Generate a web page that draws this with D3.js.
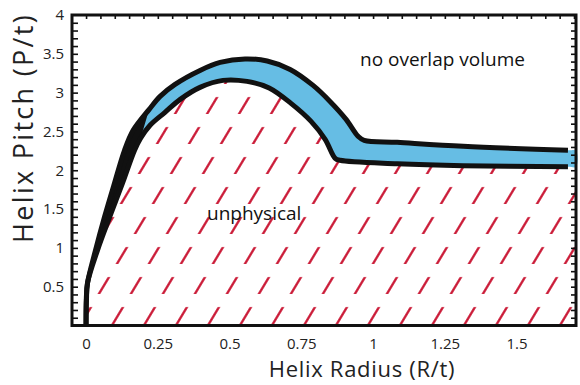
<!DOCTYPE html>
<html>
<head>
<meta charset="utf-8">
<script src="https://cdn.jsdelivr.net/npm/d3@7"></script>
<style>
  body { margin: 0; background: #fff; }
  svg { display: block; font-family: "Open Sans", Lato, sans-serif; }
</style>
</head>
<body>
<div class="canvas"><svg width="580" height="385"></svg></div>
<script>
// upper boundary of the no-overlap band  [R/t, P/t]
var upperCurve = [
  [0, 0], [0.0007, 0.328], [0.005, 0.547], [0.033, 0.971], [0.064, 1.395],
  [0.099, 1.833], [0.134, 2.257], [0.164, 2.514], [0.220, 2.785], [0.258, 2.952],
  [0.310, 3.106], [0.397, 3.286], [0.467, 3.389], [0.554, 3.434], [0.631, 3.408],
  [0.711, 3.299], [0.791, 3.093], [0.850, 2.887], [0.906, 2.656], [0.948, 2.437],
  [0.969, 2.386], [1.084, 2.360], [1.314, 2.309], [1.679, 2.257], [1.707, 2.251]
];

// lower boundary (edge of the unphysical region)
var lowerCurve = [
  [0, 0], [0.0014, 0.328], [0.005, 0.547], [0.040, 0.971], [0.082, 1.395],
  [0.127, 1.833], [0.169, 2.257], [0.190, 2.412], [0.223, 2.579], [0.275, 2.746],
  [0.328, 2.913], [0.397, 3.068], [0.477, 3.158], [0.561, 3.145], [0.638, 3.061],
  [0.714, 2.862], [0.784, 2.630], [0.833, 2.399], [0.868, 2.154], [0.885, 2.129],
  [1.084, 2.084], [1.314, 2.058], [1.679, 2.045], [1.707, 2.045]
];

var xTickValues = [0, 0.25, 0.5, 0.75, 1, 1.25, 1.5];
var xTickLabels = ["0", "0.25", "0.5", "0.75", "1", "1.25", "1.5"];
var yTickValues = [0.5, 1, 1.5, 2, 2.5, 3, 3.5, 4];
var yTickLabels = ["0.5", "1", "1.5", "2", "2.5", "3", "3.5", "4"];

var svg = d3.select(".canvas").select("svg");

// plot frame (window.top is taken, so own names)
var frameLeft = 72, frameRight = 576, frameTop = 15, frameBottom = 325.5;

var x = d3.scaleLinear().domain([-0.049, 1.707]).range([frameLeft, frameRight]);
var y = d3.scaleLinear().domain([0, 4]).range([frameBottom, frameTop]);

var curve = d3.curveCatmullRom.alpha(0.5);
var line = d3.line().x(function(d) { return x(d[0]); }).y(function(d) { return y(d[1]); }).curve(curve);

// dashed diagonal hatching
var hatch = svg.append("defs").append("pattern")
  .attr("id", "hatch")
  .attr("patternUnits", "userSpaceOnUse")
  .attr("width", 32)
  .attr("height", 30)
  .attr("patternTransform", "skewX(-31)");
hatch.append("rect")
  .attr("x", 18.2).attr("y", 7)
  .attr("width", 2.6).attr("height", 17)
  .attr("fill", "#c8102e");

// unphysical region under the lower curve
var under = d3.area()
  .x(function(d) { return x(d[0]); })
  .y0(y(0))
  .y1(function(d) { return y(d[1]); })
  .curve(curve);
svg.append("path")
  .datum(lowerCurve)
  .attr("d", under)
  .attr("fill", "url(#hatch)");

// blue band between the two curves
var band = upperCurve.concat(lowerCurve.slice().reverse());
svg.append("path")
  .datum(band)
  .attr("d", line)
  .attr("fill", "#66bde4");

// near the origin the band is all black; slanted end so the blue starts as a sliver
var tail = upperCurve.slice(0, 9).concat(lowerCurve.slice(0, 8).reverse());
svg.append("path")
  .datum(tail)
  .attr("d", d3.line().x(function(d) { return x(d[0]); }).y(function(d) { return y(d[1]); }))
  .attr("fill", "#111");

// black edges
[upperCurve, lowerCurve].forEach(function(c) {
  svg.append("path")
    .datum(c.filter(function(d) { return d[0] <= 1.68; }))
    .attr("d", line)
    .attr("fill", "none")
    .attr("stroke", "#111")
    .attr("stroke-width", 5)
    .attr("stroke-linejoin", "round");
});

// minor ticks on left, right and top
var yMinor = d3.range(1, 40).map(function(i) { return i / 10; });
var xMinor = d3.range(0, 35).map(function(i) { return i * 0.05; });

svg.append("g")
  .attr("transform", "translate(" + frameLeft + ",0)")
  .call(d3.axisRight(y).tickValues(yMinor).tickSize(6).tickFormat(""))
  .call(function(g) { g.select(".domain").remove(); });

svg.append("g")
  .attr("transform", "translate(" + frameRight + ",0)")
  .call(d3.axisLeft(y).tickValues(yMinor).tickSize(5).tickFormat(""))
  .call(function(g) { g.select(".domain").remove(); });

svg.append("g")
  .attr("transform", "translate(0," + frameTop + ")")
  .call(d3.axisBottom(x).tickValues(xMinor).tickSize(4).tickFormat(""))
  .call(function(g) { g.select(".domain").remove(); });

svg.selectAll(".tick line").attr("stroke", "#111").attr("stroke-width", 1.6);

// tick labels
svg.append("g")
  .attr("transform", "translate(" + frameLeft + ",0)")
  .call(d3.axisLeft(y).tickValues(yTickValues).tickSize(0).tickPadding(8)
    .tickFormat(function(d, i) { return yTickLabels[i]; }))
  .call(function(g) { g.select(".domain").remove(); })
  .selectAll("text")
  .attr("font-size", 15)
  .attr("font-family", "'Open Sans', sans-serif")
  .attr("fill", "#222");

svg.append("g")
  .attr("transform", "translate(0," + frameBottom + ")")
  .call(d3.axisBottom(x).tickValues(xTickValues).tickSize(0).tickPadding(13)
    .tickFormat(function(d, i) { return xTickLabels[i]; }))
  .call(function(g) { g.select(".domain").remove(); })
  .selectAll("text")
  .attr("font-size", 15)
  .attr("font-family", "'Open Sans', sans-serif")
  .attr("fill", "#222");

// frame
svg.append("rect")
  .attr("x", frameLeft).attr("y", frameTop)
  .attr("width", frameRight - frameLeft).attr("height", frameBottom - frameTop)
  .attr("fill", "none")
  .attr("stroke", "#111")
  .attr("stroke-width", 3);

// axis titles
svg.append("text")
  .attr("x", 362).attr("y", 377)
  .attr("text-anchor", "middle")
  .attr("font-size", 22)
  .attr("letter-spacing", 0.7)
  .attr("fill", "#222")
  .text("Helix Radius (R/t)");

svg.append("text")
  .attr("transform", "translate(33,128) rotate(-90)")
  .attr("text-anchor", "middle")
  .attr("font-size", 27)
  .attr("letter-spacing", 2.3)
  .attr("fill", "#222")
  .text("Helix Pitch (P/t)");

// region labels
svg.append("text")
  .attr("x", 360).attr("y", 66)
  .attr("font-size", 19)
  .attr("fill", "#111")
  .text("no overlap volume");

svg.append("text")
  .attr("x", 207).attr("y", 220)
  .attr("font-size", 19)
  .attr("fill", "#111")
  .text("unphysical");
</script>
</body>
</html>
